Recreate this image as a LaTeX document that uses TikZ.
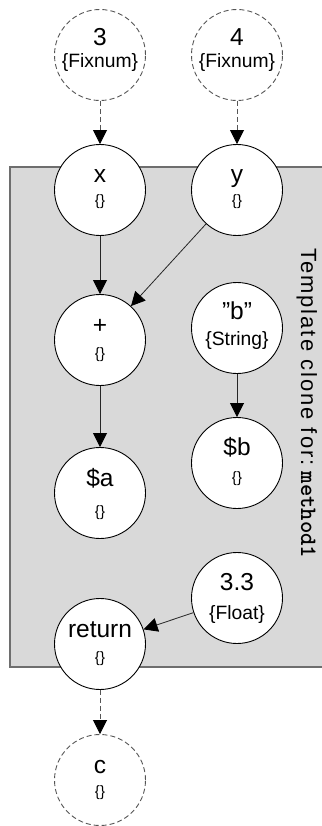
\documentclass[tikz,border=0pt]{standalone}
\usepackage{fontspec}
\setmainfont{Liberation Sans}
\newfontfamily\lblfont{Liberation Sans}[LetterSpace=9]
\usetikzlibrary{arrows.meta}
\definecolor{boxfill}{HTML}{D9D9D9}
\definecolor{boxline}{HTML}{6E6E6E}
\definecolor{dashc}{HTML}{555555}
\begin{document}
\begin{tikzpicture}[x=1pt,y=-1pt,
  vnode/.style={circle,draw=black,fill=white,line width=0.9pt,minimum size=91pt,inner sep=0pt},
  extnode/.style={vnode,draw=dashc,dash pattern=on 5pt off 3pt},
  main/.style={anchor=base,inner sep=0pt,font=\fontsize{24.5}{28}\selectfont},
  sub/.style={anchor=base,inner sep=0pt,font=\fontsize{19.3}{22}\selectfont},
  emp/.style={anchor=base,inner sep=0pt,font=\fontsize{15}{17}\selectfont},
  flow/.style={draw=black!85,line width=0.8pt,-{Triangle[length=14pt,width=14pt,color=black]}},
  extflow/.style={flow,draw=dashc,dash pattern=on 5pt off 3pt}]
\path[use as bounding box] (0,0) rectangle (321,826);
% cluster box
\draw[draw=boxline,fill=boxfill,line width=1.1pt] (10,167) rectangle (335,667);
\node[rotate=-90,anchor=base west,inner sep=0pt] (cl) at (301,248)
  {\lblfont\fontsize{22}{26}\selectfont Template clone for:\hspace{6pt}\ttfamily\fontsize{23.5}{28}\selectfont\bfseries method1};
% nodes
\node[extnode] (n3) at (100,55) {};
\node[main] at ([yshift=9pt]n3.center) {3};
\node[sub] at ([yshift=-13pt]n3.center) {\{Fixnum\}};
\node[extnode] (n4) at (237,55) {};
\node[main] at ([yshift=9pt]n4.center) {4};
\node[sub] at ([yshift=-13pt]n4.center) {\{Fixnum\}};
\node[vnode] (x) at (100,190) {};
\node[main] at ([yshift=7pt]x.center) {x};
\node[emp] at ([yshift=-16pt]x.center) {\{\}};
\node[vnode] (y) at (237,190) {};
\node[main] at ([yshift=7pt]y.center) {y};
\node[emp] at ([yshift=-16pt]y.center) {\{\}};
\node[vnode] (plus) at (100,340) {};
\node[main] at ([yshift=7pt]plus.center) {+};
\node[emp] at ([yshift=-18pt]plus.center) {\{\}};
\node[vnode] (b) at (237,328) {};
\node[main] at ([yshift=9pt]b.center) {”b”};
\node[sub] at ([yshift=-17pt]b.center) {\{String\}};
\node[vnode] (a) at (100,493) {};
\node[main] at ([yshift=7pt]a.center) {\$a};
\node[emp] at ([yshift=-23pt]a.center) {\{\}};
\node[vnode] (sb) at (237,463) {};
\node[main] at ([yshift=8pt]sb.center) {\$b};
\node[emp] at ([yshift=-19pt]sb.center) {\{\}};
\node[vnode] (f) at (237,598) {};
\node[main] at ([yshift=8pt]f.center) {3.3};
\node[sub] at ([yshift=-21pt]f.center) {\{Float\}};
\node[vnode] (ret) at (100,644) {};
\node[main] at ([yshift=7pt]ret.center) {return};
\node[emp] at ([yshift=-18pt]ret.center) {\{\}};
\node[extnode] (c) at (100,780) {};
\node[main] at ([yshift=7pt]c.center) {c};
\node[emp] at ([yshift=-16pt]c.center) {\{\}};
% edges
\draw[extflow] (n3) -- (x);
\draw[extflow] (n4) -- (y);
\draw[flow] (x) -- (plus);
\draw[flow] (y) -- (plus);
\draw[flow] (plus) -- (a);
\draw[flow] (b) -- (sb);
\draw[flow] (f) -- (ret);
\draw[extflow] (ret) -- (c);
\end{tikzpicture}
\end{document}
